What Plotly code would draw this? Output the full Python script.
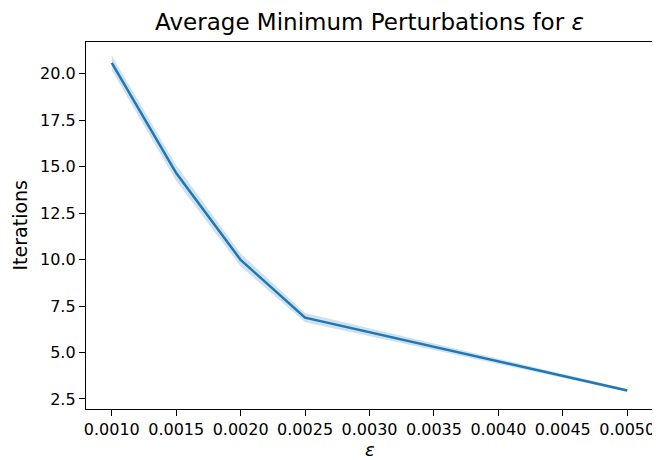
import plotly.graph_objects as go

eps = [0.0010, 0.0015, 0.0020, 0.0025, 0.0050]
iterations = [20.58, 14.65, 9.98, 6.87, 2.96]
ci_upper = [20.98, 15.07, 10.33, 7.12, 3.03]
ci_lower = [20.18, 14.23, 9.63, 6.62, 2.89]

x_ticks = [0.0010, 0.0015, 0.0020, 0.0025, 0.0030, 0.0035, 0.0040, 0.0045, 0.0050]
y_ticks = [2.5, 5.0, 7.5, 10.0, 12.5, 15.0, 17.5, 20.0]

fig = go.Figure()

# banda de confianza
fig.add_trace(go.Scatter(
    x=eps + eps[::-1],
    y=ci_upper + ci_lower[::-1],
    mode='lines',
    fill='toself',
    fillcolor='rgba(31,119,180,0.22)',
    line=dict(width=0, color='rgba(31,119,180,0)'),
    hoverinfo='skip',
    showlegend=False
))

fig.add_trace(go.Scatter(
    x=eps,
    y=iterations,
    mode='lines',
    line=dict(color='#1f77b4', width=2.5),
    showlegend=False
))

axis_style = dict(
    showgrid=False,
    zeroline=False,
    showline=True,
    linecolor='black',
    linewidth=1.3,
    mirror=True,
    ticks='outside',
    ticklen=6,
    tickwidth=1.3,
    tickcolor='black',
    tickfont=dict(size=16, color='black'),
    automargin=False,
)

# la página tiene 8px de margen en el body: se compensa con el tamaño
fig.update_layout(
    width=652,
    height=452,
    margin=dict(l=78, r=7, t=34, b=51),
    plot_bgcolor='white',
    paper_bgcolor='white',
    font=dict(family='DejaVu Sans', color='black'),
    title=dict(
        text='Average Minimum Perturbations for <i>ε</i>',
        x=0.5, xref='paper', xanchor='center',
        y=0.969, yref='container', yanchor='middle',
        font=dict(size=23, color='black')
    ),
    xaxis=dict(
        range=[0.0008, 0.0052],
        tickvals=x_ticks,
        tickformat='.4f',
        **axis_style
    ),
    yaxis=dict(
        range=[1.96, 21.7],
        tickvals=y_ticks,
        tickformat='.1f',
        **axis_style
    ),
    annotations=[
        dict(text='<i>ε</i>', x=0.5, y=0, xref='paper', yref='paper',
             xanchor='center', yanchor='middle', yshift=-40,
             showarrow=False, font=dict(size=18, color='black')),
        dict(text='Iterations', x=0, y=0.5, xref='paper', yref='paper',
             xanchor='center', yanchor='middle', xshift=-67, textangle=-90,
             showarrow=False, font=dict(size=19, color='black')),
    ],
)

fig.write_html("out.html")
